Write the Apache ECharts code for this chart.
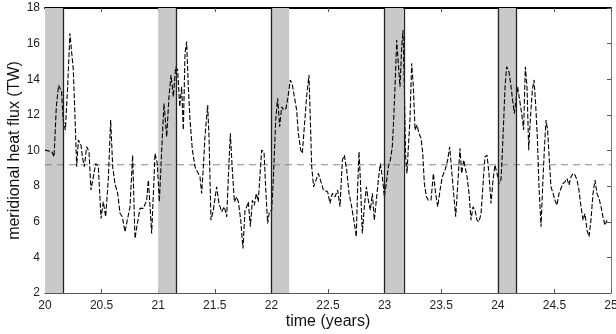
<!DOCTYPE html>
<html><head><meta charset="utf-8">
<script src="https://cdn.jsdelivr.net/npm/echarts@6/dist/echarts.min.js"></script>
<style>html,body{margin:0;padding:0;background:#fff}#c{width:616px;height:334px}</style>
</head><body><div id="c"></div>
<script>
// time in years
var times = [20.00,20.06,20.08,20.10,20.12,20.147,20.16,20.18,20.20,20.22,20.25,20.265,20.28,20.295,20.318,20.33,20.347,20.368,20.389,20.406,20.427,20.448,20.471,20.495,20.515,20.536,20.559,20.580,20.598,20.618,20.642,20.663,20.683,20.707,20.727,20.751,20.774,20.795,20.816,20.839,20.869,20.898,20.913,20.928,20.942,20.960,20.972,20.992,21.010,21.031,21.051,21.075,21.095,21.113,21.134,21.154,21.172,21.190,21.207,21.222,
21.237,21.251,21.266,21.281,21.302,21.325,21.346,21.369,21.384,21.399,21.413,21.437,21.449,21.466,21.487,21.516,21.537,21.561,21.584,21.605,21.620,21.637,21.655,21.673,21.693,21.708,21.729,21.749,21.767,21.782,21.796,21.814,21.832,21.849,21.867,21.884,21.902,21.914,21.935,21.949,21.967,21.982,22.002,22.017,22.038,22.055,22.073,22.091,22.108,22.129,22.149,22.167,22.185,22.203,22.223,22.238,22.259,22.273,22.291,22.311,22.332,22.344,22.356,22.373,22.394,22.415,22.438,22.459,
22.497,22.518,22.538,22.562,22.585,22.606,22.627,22.644,22.665,22.686,22.709,22.733,22.750,22.762,22.774,22.786,22.803,22.821,22.839,22.856,22.874,22.892,22.909,22.927,22.945,22.962,22.980,22.998,23.015,23.033,23.051,23.068,23.080,23.092,23.107,23.121,23.136,23.151,23.163,23.174,23.186,23.198,23.210,23.224,23.239,23.254,23.269,23.286,23.304,23.322,23.337,23.351,23.369,23.386,23.410,23.431,23.451,23.469,23.490,23.510,23.534,23.557,23.575,23.592,23.610,23.628,23.645,23.666,23.681,23.699,
23.728,23.746,23.763,23.781,23.799,23.816,23.834,23.852,23.872,23.887,23.905,23.922,23.940,23.958,23.975,23.993,24.011,24.028,24.040,24.052,24.064,24.078,24.099,24.117,24.131,24.146,24.161,24.175,24.193,24.211,24.228,24.243,24.258,24.273,24.287,24.305,24.320,24.334,24.349,24.364,24.382,24.396,24.411,24.426,24.440,24.455,24.470,24.488,24.505,24.523,24.541,24.558,24.576,24.594,24.611,24.629,24.647,24.664,24.682,24.700,24.717,24.735,24.753,24.770,24.788,24.806,24.823,24.841,24.859,24.876,24.894,24.912,24.929,24.947,24.965];
// meridional heat flux (TW)
var flux = [10.02,9.93,9.65,12.46,13.67,13.30,11.7,11.15,13.58,16.58,14.52,11.9,9.09,10.59,10.30,9.65,9.09,10.21,9.93,7.78,8.53,9.27,9.09,6.18,7.12,6.28,8.34,11.71,9.09,8.15,7.59,6.46,6.28,5.43,6.09,6.84,9.74,5.06,5.90,6.75,6.75,7.21,8.34,6.84,5.34,7.96,9.84,9.27,7.12,10.02,12.64,10.77,13.02,14.24,13.02,14.70,14.52,12.46,13.58,11.15,
15.45,16.11,13.58,11.71,10.02,9.09,8.81,8.53,7.59,9.09,10.77,12.55,10.77,6.09,6.65,7.96,7.03,6.56,6.84,6.28,8.53,10.96,8.90,7.12,7.40,7.12,6.09,4.50,6.65,6.84,7.12,5.72,7.21,6.93,7.59,7.12,8.90,10.02,9.93,7.96,5.90,6.56,6.65,8.34,11.71,12.93,11.33,12.46,12.27,12.36,13.11,13.96,13.67,13.02,12.27,10.96,10.02,9.84,11.33,13.02,14.24,11.71,9.09,7.96,8.34,8.71,8.24,7.78,
7.68,7.03,7.59,7.40,7.78,6.84,9.46,9.74,8.90,7.59,6.84,5.90,5.16,7.96,9.93,8.34,5.34,6.84,7.96,7.21,6.65,7.59,6.09,7.21,8.34,9.27,8.53,7.40,8.15,9.09,9.46,10.21,11.71,13.58,16.20,14.89,13.58,15.83,16.76,13.58,9.65,8.71,10.21,11.71,14.89,13.58,11.15,11.43,10.96,10.68,9.84,8.15,7.40,7.21,7.21,8.71,7.59,6.84,7.78,8.53,8.90,9.46,10.21,8.90,7.59,6.28,7.96,10.12,8.71,9.46,
8.53,7.59,6.09,6.84,6.65,6.09,6.00,6.46,8.34,9.65,9.74,8.71,7.03,8.34,9.18,8.71,8.15,8.34,9.84,11.71,13.58,14.70,14.42,13.58,12.83,12.08,12.83,13.58,12.83,12.08,11.15,14.70,13.58,10.02,11.71,13.39,13.96,12.64,10.77,7.96,5.72,7.96,10.02,11.71,11.15,9.46,7.96,7.59,7.21,6.93,7.59,7.87,8.15,8.24,8.43,8.06,8.53,8.71,8.62,8.34,7.78,6.84,6.09,6.46,5.53,5.16,6.09,7.59,8.34,7.59,7.31,6.84,6.28,5.81,6.09];
var meanFlux = 9.2;
var bandStarts = [20.0, 21.0, 22.0, 23.0, 24.0];
var bandEnds = [20.16, 21.163, 22.157, 23.167, 24.165];
var edgeLines = [20.16, 21.163, 22.0, 23.0, 23.167, 24.0, 24.165];
var xTicks = [20, 20.5, 21, 21.5, 22, 22.5, 23, 23.5, 24, 24.5, 25];
var yTicks = [2, 4, 6, 8, 10, 12, 14, 16, 18];

var seriesData = times.map(function (t, i) { return [t, flux[i]]; });
var font = '"Liberation Sans", Arial, Helvetica, sans-serif';
var chart = echarts.init(document.getElementById('c'), null, {renderer: 'canvas'});
chart.setOption({
  animation: false,
  backgroundColor: '#fff',
  grid: {left: 45, right: 5, top: 8, bottom: 41, containLabel: false, outerBoundsMode: 'none'},
  xAxis: [{
    type: 'value', min: 20, max: 25, interval: 0.5,
    name: 'time (years)', nameLocation: 'middle', nameGap: 21, nameMoveOverlap: false,
    nameTextStyle: {fontFamily: font, fontSize: 16, color: '#111'},
    axisLine: {show: true, lineStyle: {color: '#555', width: 1}},
    axisTick: {show: true, inside: true, length: 4, lineStyle: {color: '#555'}},
    axisLabel: {fontFamily: font, fontSize: 12, color: '#222', margin: 7,
      formatter: function (v) { return xTicks.indexOf(v) >= 0 ? String(v) : ''; }},
    splitLine: {show: false}
  }, {
    type: 'value', min: 20, max: 25, interval: 0.5, position: 'top',
    axisLine: {show: true, lineStyle: {color: '#000', width: 2}},
    axisTick: {show: true, inside: true, length: 4, lineStyle: {color: '#555'}},
    axisLabel: {show: false}, splitLine: {show: false}
  }],
  yAxis: [{
    type: 'value', min: 2, max: 18, interval: 2,
    name: 'meridional heat flux (TW)', nameLocation: 'middle', nameGap: 22, nameMoveOverlap: false,
    nameTextStyle: {fontFamily: font, fontSize: 16, color: '#111'},
    axisLine: {show: true, lineStyle: {color: '#555', width: 1}},
    axisTick: {show: true, inside: true, length: 4, lineStyle: {color: '#555'}},
    axisLabel: {fontFamily: font, fontSize: 12, color: '#222', margin: 5,
      formatter: function (v) { return yTicks.indexOf(v) >= 0 ? String(v) : ''; }},
    splitLine: {show: false}
  }, {
    type: 'value', min: 2, max: 18, interval: 2, position: 'right',
    axisLine: {show: true, lineStyle: {color: '#777', width: 1}},
    axisTick: {show: true, inside: true, length: 4, lineStyle: {color: '#555'}},
    axisLabel: {show: false}, splitLine: {show: false}
  }],
  series: [{
    type: 'line', z: 1, symbol: 'none', silent: true,
    data: [[20, meanFlux], [25, meanFlux]],
    lineStyle: {color: '#888', width: 1, type: [7, 5]}
  }, {
    type: 'line', z: 2, symbol: 'none', silent: true, data: [],
    markArea: {silent: true, itemStyle: {color: '#c9c9c9'},
      data: bandStarts.map(function (s, i) { return [{xAxis: s}, {xAxis: bandEnds[i]}]; })},
    markLine: {silent: true, symbol: ['none', 'none'], label: {show: false},
      lineStyle: {color: '#222', width: 1.3, type: 'solid'},
      data: edgeLines.map(function (x) { return {xAxis: x}; })}
  }, {
    type: 'line', z: 3, symbol: 'none', silent: true,
    data: seriesData,
    lineStyle: {color: '#000', width: 1.1, type: [5, 2]}
  }]
});
</script></body></html>
